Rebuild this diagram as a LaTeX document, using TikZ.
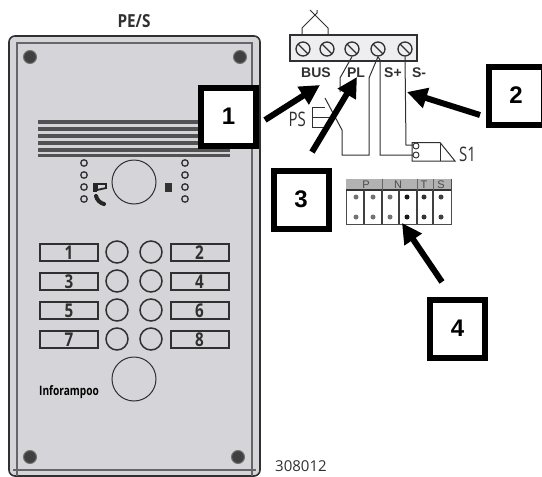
\documentclass[tikz,border=0pt]{standalone}
\usepackage{fontspec}
\setmainfont{Liberation Sans}
\newfontfamily\narrowfont{Open Sans}
\usepackage{xcolor}
\usetikzlibrary{arrows.meta,positioning,calc}
\definecolor{panelgray}{HTML}{D5D5D9}
\definecolor{inkgray}{HTML}{303030}
\newcommand{\squeezed}[2][0.8]{\scalebox{#1}[1]{#2}}
\tikzset{
    callout/.style={draw=black, line width=6pt, fill=white, minimum width=55pt, minimum height=58pt, inner sep=0pt, font=\bfseries\fontsize{24}{24}\selectfont},
    pointer/.style={-{Triangle[length=20pt,width=20pt]}, line width=6pt},
    keylabel/.style={draw=inkgray, line width=2pt, fill=panelgray, minimum width=58pt, minimum height=17pt, inner sep=0pt, text=inkgray, font=\narrowfont\bfseries\fontsize{19}{19}\selectfont},
    keybutton/.style={circle, draw=inkgray, line width=1.5pt, minimum size=22pt, inner sep=0pt},
    bigcircle/.style={circle, draw=inkgray, line width=1pt, minimum size=44pt, inner sep=0pt},
    led/.style={circle, draw=inkgray, line width=1.3pt, minimum size=6.5pt, inner sep=0pt},
    panelscrew/.style={circle, fill=black!75, draw=black!55, line width=1pt, minimum size=13pt, inner sep=0pt},
    termscrew/.style={circle, draw=inkgray, line width=1.3pt, minimum size=14pt, inner sep=0pt},
    wire/.style={draw=inkgray, line width=1pt},
    termlabel/.style={text=inkgray, inner sep=0pt, font=\bfseries\fontsize{14}{14}\selectfont},
    thinlabel/.style={text=inkgray, inner sep=0pt, font=\narrowfont\fontsize{20}{20}\selectfont},
    contactpin/.style={circle, draw=inkgray, fill=white, line width=0.9pt, minimum size=6pt, inner sep=0pt},
}
\begin{document}
\begin{tikzpicture}[x=1pt,y=-1pt]
    \useasboundingbox (0,0) rectangle (542,477);
    % panel
    \draw[inkgray, line width=1.6pt, fill=panelgray, rounded corners=6pt] (9,36) rectangle (260,476);
    \draw[black!60, line width=1.4pt] (17,476) -- (17,43) -- (252,43) -- (252,476);
    \draw[black!60, line width=1.4pt] (13,470) -- (256,470);
    \node[inner sep=0pt, font=\narrowfont\bfseries\fontsize{18}{18}\selectfont, text=inkgray] (title) at (134,21) {\squeezed[0.85]{PE/S}};
    \foreach \px/\py [count=\i] in {30/57, 240/57, 30/457, 238/457}
        \node[panelscrew] (screw\i) at (\px,\py) {};
    % grille
    \foreach \gy in {120,127,134,141,148,153.5}
        \fill[black!68] (38,\gy) rectangle (230,\gy+3.6);
    % leds and speaker
    \foreach \ly in {163,175,187,199} {
        \node[led] at (84,\ly) {};
        \node[led] at (185,\ly) {};
    }
    \node[bigcircle] (camera) at (134,182) {};
    \fill[black!85] (93,183) rectangle (97,192);
    \draw[black!85, line width=1.8pt, fill=panelgray] (97,184) -- (106,184) -- (106,188) -- (97,190) -- cycle;
    \draw[black!85, line width=4pt, line cap=round] (96,196) .. controls (97,200) and (100,203) .. (104,204);
    \fill[black!80] (165,183) rectangle (172,192);
    % keypad
    \foreach \kx/\ky/\ktext in {69/252.5/1, 199.5/252.5/2, 69/281.5/3, 199.5/281.5/4, 69/310.5/5, 199.5/310.5/6, 69/339.5/7, 199.5/339.5/8}
        \node[keylabel] (key\ktext) at (\kx,\ky) {\squeezed{\ktext}};
    \foreach \ky in {252,281,310,339} {
        \node[keybutton] at (117,\ky) {};
        \node[keybutton] at (151,\ky) {};
    }
    \node[bigcircle] (bell) at (134,379) {};
    \node[inner sep=0pt, font=\narrowfont\bfseries\fontsize{13}{13}\selectfont, text=black] (logo) at (69,392) {\squeezed[0.78]{Inforampoo}};
    \node[inner sep=0pt, anchor=west, font=\narrowfont\fontsize{15}{15}\selectfont, text=inkgray] (code) at (275,466) {308012};
    % terminal block
    \draw[inkgray, line width=1.2pt, fill=panelgray!40] (290,35) rectangle (417,61);
    \foreach \tx [count=\i] in {303,327,352,378,405} {
        \node[termscrew] (term\i) at (\tx,49) {};
        \draw[inkgray, line width=1.3pt] (\tx-5,44) -- (\tx+5,54);
    }
    \draw[wire] (302,35) -- (302,28) -- (317,13) -- (317,10);
    \draw[wire] (328,35) -- (328,28) -- (310,10);
    % wiring
    \draw[wire] (term3.south) -- (340,78) -- (340,92);
    \draw[wire] (325,98) -- (342,130) -- (342,155) -- (369,155) -- (369,78) -- (term4.south);
    \draw[wire] (term4.south) -- (380,60) -- (380,155) -- (413,155);
    \draw[wire] (term5.south) -- (406,145) -- (413,145);
    \draw[wire] (325,107) -- (312,107) -- (312,127) -- (325,127);
    \draw[wire] (312,117) -- (331,117);
    \node[thinlabel, anchor=east] (pslabel) at (306,119) {\squeezed[0.75]{PS}};
    % contact
    \draw[wire] (412,142.5) -- (440,142.5) -- (455,161) -- (412,161) -- cycle;
    \draw[wire] (440,142.5) -- (440,161);
    \node[contactpin] (contacta) at (416,146) {};
    \node[contactpin] (contactb) at (416,155) {};
    \node[thinlabel, anchor=west] (slabel) at (459,154) {\squeezed[0.75]{S1}};
    \node[termlabel] (bus) at (316,73) {BUS};
    \node[termlabel] (pl) at (356,73) {PL};
    \node[termlabel] (splus) at (393,73) {S+};
    \node[termlabel] (sminus) at (419,73) {S-};
    % connector strip
    \draw[black!70, line width=1pt] (346,179) rectangle (451,224);
    \fill[black!30] (346,179) rectangle (451,190);
    \draw[black!80, line width=1.2pt] (346,190) -- (451,190);
    \foreach \dx in {364,382,399,417,433}
        \draw[black!75, line width=1.1pt] (\dx,190) -- (\dx,224);
    \foreach \dx in {382,417,433}
        \draw[black!60, line width=1pt] (\dx,179) -- (\dx,190);
    \foreach \hx/\htext in {366/P,398/N,424/T,441/S}
        \node[inner sep=0pt, text=black!70, font=\fontsize{11}{11}\selectfont] at (\hx,185) {\htext};
    \foreach \dx/\dk in {356/55,373/55,390/55,407/90,424/80,441/75} {
        \fill[black!\dk] (\dx,197) circle (2.5pt);
        \fill[black!\dk] (\dx,217) circle (2.5pt);
    }
    % callouts
    \node[callout] (one) at (228.5,116.5) {1};
    \node[callout] (two) at (516,95.5) {2};
    \node[callout] (three) at (301,199.5) {3};
    \node[callout] (four) at (457.5,328.5) {4};
    \coordinate (tipone) at (320,85);
    \coordinate (tiptwo) at (407,92);
    \coordinate (tipthree) at (357,77);
    \coordinate (tipfour) at (402,223);
    \coordinate (tailone) at (265,120);
    \coordinate (tailtwo) at (480,115);
    \coordinate (tailthree) at (312,152);
    \coordinate (tailfour) at (442,282);
    \draw[pointer] (tailone) -- (tipone);
    \draw[pointer] (tailtwo) -- (tiptwo);
    \draw[pointer] (tailthree) -- (tipthree);
    \draw[pointer] (tailfour) -- (tipfour);
\end{tikzpicture}
\end{document}
